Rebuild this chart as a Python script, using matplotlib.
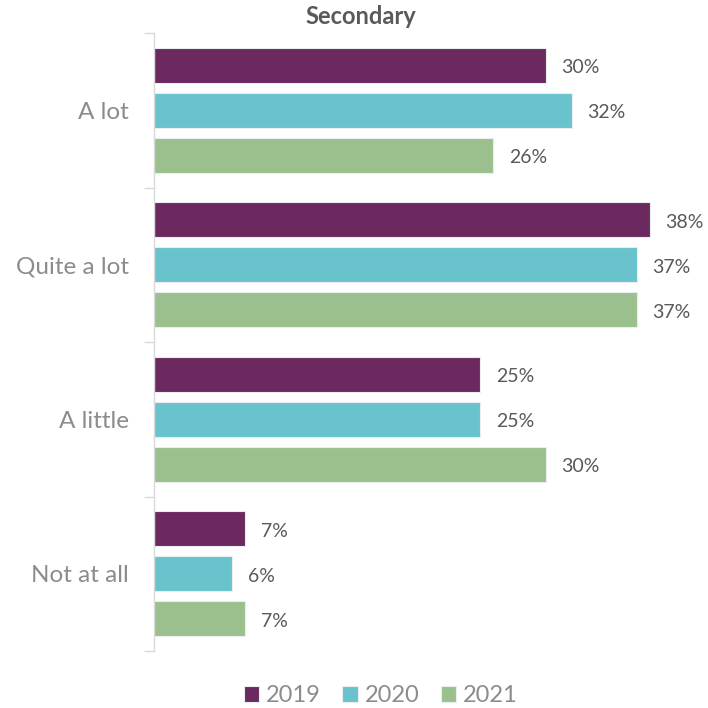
import matplotlib
matplotlib.use("Agg")
import matplotlib.pyplot as plt
import numpy as np

categories = ["A lot", "Quite a lot", "A little", "Not at all"]
years = ["2019", "2020", "2021"]
values_2019 = [30, 38, 25, 7]
values_2020 = [32, 37, 25, 6]
values_2021 = [26, 37, 30, 7]
colors = ["#6B2960", "#69C3CC", "#9BC08D"]

plt.rcParams["font.family"] = ["Lato", "DejaVu Sans"]

fig = plt.figure(figsize=(7.08, 7.08), dpi=100)
ax = fig.add_axes([154 / 708, 1 - 651 / 708, 526 / 708, 618 / 708])

series = [values_2019, values_2020, values_2021]
y = np.arange(len(categories))
offsets = [-0.291, 0.0, 0.291]
bar_h = 0.228

for vals, off, col, yr in zip(series, offsets, colors, years):
    bars = ax.barh(y + off, vals, height=bar_h, color=col, edgecolor="#e8eef0",
                   linewidth=0.8, label=yr)
    for b, v in zip(bars, vals):
        ax.text(b.get_width() + 1.2, b.get_y() + b.get_height() / 2 + 0.015, f"{v}%",
                va="center", ha="left", fontsize=14, color="#595959")

ax.set_xlim(0, 526 / 13.05)
ax.set_ylim(len(categories) - 0.5, -0.5)
ax.set_yticks(y)
ax.set_yticklabels(categories, fontsize=17.5, color="#8c8c8c")
ax.tick_params(axis="y", length=0, pad=18)
ax.set_yticks(np.arange(len(categories) + 1) - 0.5, minor=True)
ax.tick_params(axis="y", which="minor", length=7, color="#d9d9d9", width=1)
ax.set_xticks([])
for side in ["top", "right", "bottom"]:
    ax.spines[side].set_visible(False)
ax.spines["left"].set_color("#d9d9d9")
ax.spines["left"].set_linewidth(1)

fig.text(361 / 708, 1 - 17 / 708, "Secondary", ha="center", va="center",
         fontsize=17, fontweight="bold", color="#595959")

fig.legend(loc="center", bbox_to_anchor=(381 / 708, 1 - 696 / 708), ncol=3,
           frameon=False, fontsize=17, labelcolor="#8c8c8c", handlelength=0.65,
           handleheight=0.65, handletextpad=0.3, columnspacing=0.9)

fig.savefig("out.png", dpi=100)
